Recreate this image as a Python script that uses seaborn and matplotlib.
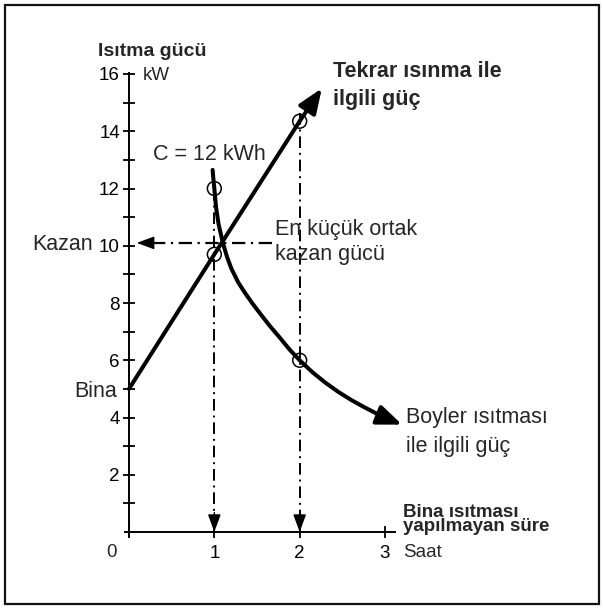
import matplotlib
matplotlib.use('Agg')
import matplotlib.pyplot as plt
import seaborn as sns

# 1. Veriler
tekrar_t = [0, 1, 2, 2.26]          # saat
tekrar_p = [5, 9.7, 14.35, 15.5]    # kW

boyler_t = [0.98, 0.99, 1.00, 1.02, 1.05, 1.10, 1.15, 1.20, 1.28, 1.36, 1.45, 1.55, 1.65,
            1.77, 1.88, 2.00, 2.15, 2.30, 2.45, 2.60, 2.75, 2.90, 3.05, 3.20]
boyler_p = [12.65, 12.3, 12.0, 11.35, 10.75, 10.1, 9.6, 9.2, 8.72, 8.35, 7.97, 7.58, 7.2,
            6.78, 6.38, 6.0, 5.58, 5.22, 4.9, 4.62, 4.37, 4.14, 3.93, 3.75]

daire_t = [1, 1, 2, 2]
daire_p = [12, 9.7, 14.35, 6]

dik_t = [1, 2]
dik_ust = [12, 14.65]

kazan_p = 10.1
kazan_t = [1.67, 0.09]

y_major = [2, 4, 6, 8, 10, 12, 14, 16]
y_minor = [1, 3, 5, 7, 9, 11, 13, 15]
x_ticks = [0, 1, 2, 3]
x_labels = ['', '1', '2', '3']

# 2. Stil
sns.set_style('white')
plt.rcParams['font.family'] = ['Liberation Sans', 'DejaVu Sans']

fig = plt.figure(figsize=(6.03, 6.08), dpi=100)
ax = fig.add_axes([0, 0, 1, 1])
ax.patch.set_alpha(0)

# piksel -> veri ölçeği
X0, SX = 129, 85.33
Y0, SY = 532, 28.625
ax.set_xlim(-X0 / SX, (603 - X0) / SX)
ax.set_ylim((Y0 - 608) / SY, Y0 / SY)

for s in ['top', 'right']:
    ax.spines[s].set_visible(False)
ax.spines['left'].set_position(('data', 0))
ax.spines['bottom'].set_position(('data', 0))
ax.spines['left'].set_bounds(-0.17, 16.05)
ax.spines['bottom'].set_bounds(-0.05, 3.12)
for s in ['left', 'bottom']:
    ax.spines[s].set_linewidth(1.4)
    ax.spines[s].set_color('black')

ax.set_xticks(x_ticks, x_labels)
ax.set_yticks(y_major, [str(v) for v in y_major])
ax.set_yticks(y_minor, minor=True)
ax.tick_params(which='both', direction='inout', length=9, width=1.3, colors='black',
               labelsize=13.5, left=True, bottom=True)
ax.tick_params(axis='x', pad=5)
ax.tick_params(axis='y', pad=2)
ax.set_xlabel('')
ax.set_ylabel('')

# 3. Kesikli yardımcı çizgiler
dashdot = (0, (6, 2.5, 1, 2.5))
for t, ust in zip(dik_t, dik_ust):
    ax.plot([t, t], [ust, 0.4], color='black', lw=1.4, linestyle=dashdot)
    ax.annotate('', xy=(t, 0), xytext=(0, 14), textcoords='offset points',
                arrowprops=dict(arrowstyle='-|>,head_length=0.6,head_width=0.22',
                                mutation_scale=18, lw=1, color='black', shrinkA=0, shrinkB=0))
ax.plot([kazan_t[0], kazan_t[1] + 0.15], [kazan_p, kazan_p], color='black', lw=1.6, linestyle=dashdot)
ax.annotate('', xy=(kazan_t[1], kazan_p), xytext=(14, 0), textcoords='offset points',
            arrowprops=dict(arrowstyle='-|>,head_length=0.6,head_width=0.22',
                            mutation_scale=18, lw=1, color='black', shrinkA=0, shrinkB=0))

# 4. Eğriler
sns.lineplot(x=tekrar_t[:-1], y=tekrar_p[:-1], color='black', lw=2.9, ax=ax,
             estimator=None, sort=False)
sns.lineplot(x=boyler_t[:-1], y=boyler_p[:-1], color='black', lw=2.9, ax=ax,
             estimator=None, sort=False)
for tt, pp in [(tekrar_t, tekrar_p), (boyler_t, boyler_p)]:
    ax.annotate('', xy=(tt[-1], pp[-1]), xytext=(tt[-2], pp[-2]),
                arrowprops=dict(arrowstyle='-|>,head_length=0.75,head_width=0.3',
                                mutation_scale=20, lw=2.9, color='black',
                                shrinkA=0, shrinkB=0))

sns.scatterplot(x=daire_t, y=daire_p, marker='o', s=100, facecolor='none',
                edgecolor='black', linewidth=1.1, ax=ax, zorder=5)

# 5. Metinler
fs = 15.5
ax.text(-0.363, 16.64, 'Isıtma gücü', fontsize=14, fontweight='bold', va='baseline')
ax.text(0.164, 15.79, 'kW', fontsize=13.5, va='baseline')
ax.text(2.39, 15.91, 'Tekrar ısınma ile', fontsize=15.5, fontweight='bold', va='baseline')
ax.text(2.39, 14.92, 'ilgili güç', fontsize=15.5, fontweight='bold', va='baseline')
ax.text(0.28, 13.0, 'C = 12 kWh', fontsize=fs, va='baseline')
ax.text(1.71, 10.38, 'En küçük ortak', fontsize=fs, va='baseline')
ax.text(1.71, 9.5, 'kazan gücü', fontsize=fs, va='baseline')
ax.text(-0.42, 9.85, 'Kazan', fontsize=fs, va='baseline', ha='right')
ax.text(-0.14, 4.73, 'Bina', fontsize=fs, va='baseline', ha='right')
ax.text(3.246, 3.80, 'Boyler ısıtması', fontsize=fs, va='baseline')
ax.text(3.246, 2.81, 'ile ilgili güç', fontsize=fs, va='baseline')
ax.text(3.21, 0.03, 'Bina ısıtması\nyapılmayan süre', fontsize=13.5, fontweight='bold',
        va='baseline', linespacing=0.8)
ax.text(3.21, -0.86, 'Saat', fontsize=13.5, va='baseline')
ax.text(-0.2, -0.86, '0', fontsize=13.5, va='baseline', ha='center')

# 6. Çerçeve
fig.add_artist(plt.Rectangle((5 / 603, 4 / 608), 594 / 603, 599 / 608, fill=False,
                             lw=1.6, edgecolor='#111111', transform=fig.transFigure))

plt.savefig('out.png', dpi=100)
plt.close()
